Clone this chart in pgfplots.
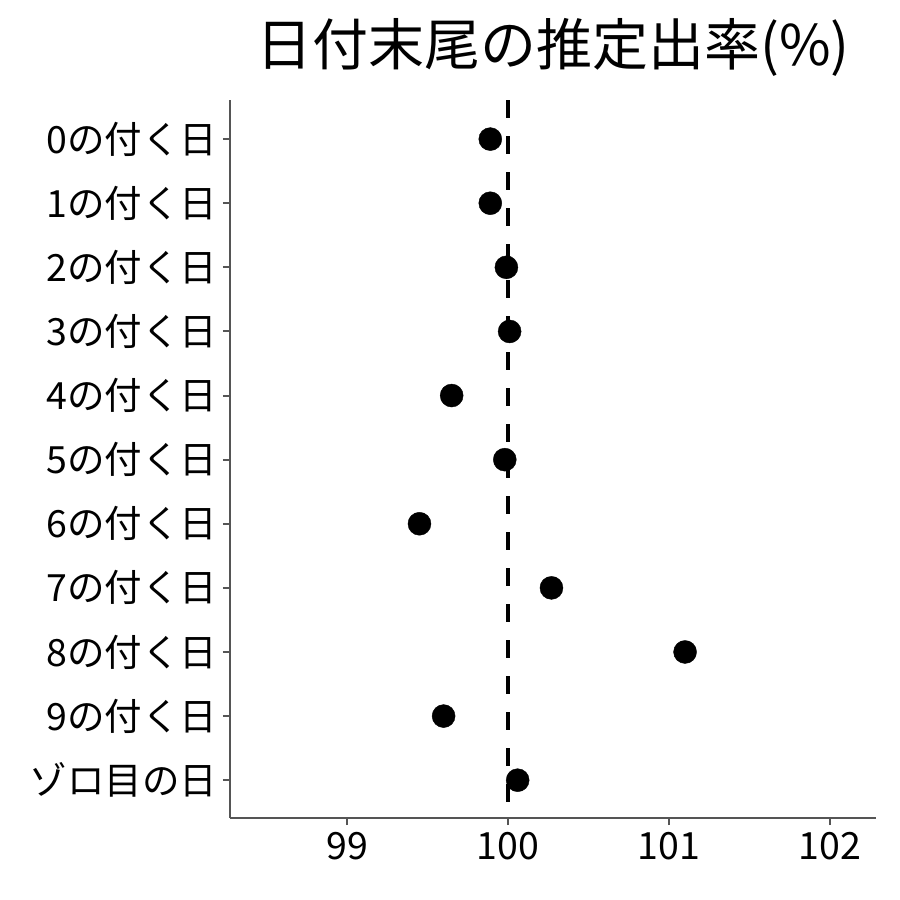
\documentclass[border=0pt]{standalone}
\usepackage{fontspec}
\setmainfont{Noto Sans CJK JP}
\usepackage{pgfplots}
\pgfplotsset{compat=1.18}
\definecolor{axgray}{RGB}{85,85,85}

\begin{document}
\begin{tikzpicture}
\useasboundingbox (-230pt,-82pt) rectangle (670pt,818pt);
\begin{axis}[
    at={(0,0)}, anchor=south west,
    scale only axis,
    width=646pt, height=718pt,
    xmin=98.273, xmax=102.286,
    ymin=0.39, ymax=11.59,
    y dir=reverse,
    axis x line*=bottom, axis y line*=left,
    axis line style={axgray, line width=1.3pt, -},
    xtick={99,100,101,102},
    ytick={1,...,11},
    yticklabels={0の付く日,1の付く日,2の付く日,3の付く日,4の付く日,5の付く日,6の付く日,7の付く日,8の付く日,9の付く日,ゾロ目の日},
    tick style={axgray, line width=2pt},
    tick align=outside,
    major tick length=7pt,
    ticklabel style={font=\fontsize{37.5}{42}\selectfont, black},
    xticklabel style={yshift=-4pt},
    yticklabel style={xshift=-2pt},
    /pgf/number format/assume math mode=true,
    title={日付末尾の推定出率(\%)},
    title style={font=\fontsize{56}{62}\selectfont, yshift=14pt},
    clip=false,
]
\addplot[black, line width=4pt, dash pattern=on 18pt off 18pt] coordinates {(100,0.39) (100,11.59)};
\addplot[only marks, mark=*, mark size=11.5pt, black] coordinates {
    (99.89,1) (99.89,2) (99.99,3) (100.01,4) (99.65,5) (99.98,6)
    (99.45,7) (100.27,8) (101.10,9) (99.60,10) (100.06,11)
};
\end{axis}
\end{tikzpicture}
\end{document}
